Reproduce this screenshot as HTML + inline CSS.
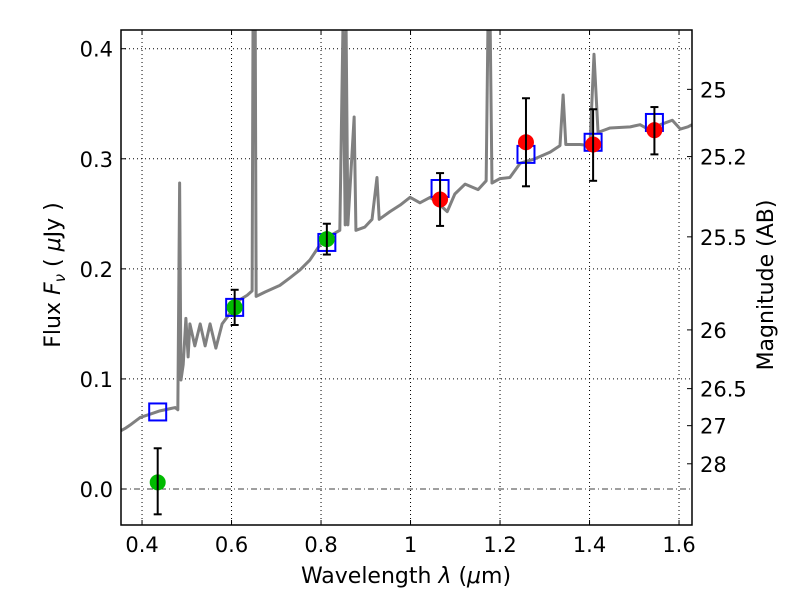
<!DOCTYPE html>
<html><head><meta charset="utf-8"><style>
body{margin:0;background:#fff}
svg text{font-family:"DejaVu Sans","Liberation Sans",sans-serif;fill:#000}
</style></head><body>
<svg id="c" width="800" height="600" xmlns="http://www.w3.org/2000/svg"></svg>
<script>
const specX=[0.353,0.362,0.373,0.396,0.418,0.440,0.463,0.474,0.480,0.484,0.487,0.492,0.498,0.503,0.507,0.518,0.530,0.541,0.552,0.565,0.579,0.603,0.619,0.635,0.646,0.648,0.653,0.655,0.675,0.708,0.731,0.753,0.775,0.798,0.820,0.842,0.849,0.854,0.856,0.860,0.874,0.878,0.898,0.914,0.925,0.930,0.954,0.977,0.999,1.021,1.044,1.066,1.082,1.099,1.122,1.151,1.169,1.173,1.178,1.182,1.200,1.222,1.245,1.278,1.312,1.334,1.341,1.347,1.379,1.401,1.410,1.419,1.446,1.491,1.513,1.535,1.558,1.585,1.603,1.620,1.629];
const specY=[0.053,0.055,0.058,0.065,0.068,0.071,0.073,0.074,0.072,0.278,0.099,0.113,0.155,0.12,0.15,0.13,0.15,0.13,0.15,0.128,0.15,0.163,0.172,0.176,0.18,0.42,0.42,0.175,0.179,0.185,0.192,0.199,0.208,0.222,0.230,0.235,0.42,0.24,0.42,0.24,0.338,0.235,0.238,0.245,0.283,0.245,0.252,0.258,0.265,0.26,0.265,0.258,0.252,0.268,0.277,0.272,0.28,0.42,0.42,0.278,0.282,0.283,0.296,0.3,0.306,0.312,0.358,0.313,0.313,0.312,0.395,0.324,0.328,0.329,0.331,0.326,0.331,0.335,0.327,0.329,0.331];
const bandX=[0.435,0.607,0.813,1.066,1.258,1.408,1.545];
const obsFlux=[0.006,0.165,0.227,0.263,0.315,0.313,0.326];
const errHi=[0.037,0.181,0.241,0.287,0.355,0.345,0.347];
const errLo=[-0.023,0.149,0.213,0.239,0.275,0.280,0.304];
const modelFlux=[0.070,0.165,0.224,0.273,0.304,0.315,0.333];
const obsColor=['#00bb00','#00bb00','#00bb00','#ff0000','#ff0000','#ff0000','#ff0000'];
const xTicks=[0.4,0.6,0.8,1.0,1.2,1.4,1.6];
const xTickLabels=['0.4','0.6','0.8','1','1.2','1.4','1.6'];
const yTicks=[0.0,0.1,0.2,0.3,0.4];
const yTickLabels=['0.0','0.1','0.2','0.3','0.4'];
const magTicks=[25,25.2,25.5,26,26.5,27,28];
const magLabels=['25','25.2','25.5','26','26.5','27','28'];

const L=121,R=692,T=30,B=525,X0=0.353,X1=1.629,Y0=-0.0327,Y1=0.417;
const sx=v=>L+(v-X0)/(X1-X0)*(R-L);
const sy=v=>B-(v-Y0)/(Y1-Y0)*(B-T);
const svg=document.getElementById('c');const NS='http://www.w3.org/2000/svg';
function mk(tag,attrs,name,parent){const e=document.createElementNS(NS,tag);for(const k in attrs)e.setAttribute(k,attrs[k]);


(parent||svg).appendChild(e);return e;}
const defs=mk('defs',{},'defs');const cp=mk('clipPath',{id:'cp'},'clip',defs);mk('rect',{x:L,y:T,width:R-L,height:B-T},'clip-rect',cp);
xTicks.forEach((t,i)=>{const x=sx(t);
mk('line',{x1:x,x2:x,y1:T,y2:B,stroke:'#000','stroke-width':1,'stroke-dasharray':'1,3'},'x-grid');
mk('line',{x1:x,x2:x,y1:B,y2:B-5,stroke:'#000'},'x-tick');mk('line',{x1:x,x2:x,y1:T,y2:T+5,stroke:'#000'},'x-tick-top');
const tx=mk('text',{x:x,y:B+27,'font-size':21,'text-anchor':'middle'},'x-tick-label');tx.textContent=xTickLabels[i];});
yTicks.forEach((t,i)=>{const y=sy(t);
if(t!==0)mk('line',{x1:L,x2:R,y1:y,y2:y,stroke:'#000','stroke-dasharray':'1,3'},'y-grid');
mk('line',{x1:L,x2:L+5,y1:y,y2:y,stroke:'#000'},'y-tick');
const tx=mk('text',{x:L-8,y:y+8,'font-size':21,'text-anchor':'end'},'y-tick-label');tx.textContent=yTickLabels[i];});
mk('line',{x1:L,x2:R,y1:sy(0),y2:sy(0),stroke:'#000','stroke-width':0.8,'stroke-dasharray':'6,3,1,3'},'zero-line');
magTicks.forEach((m,i)=>{const y=sy(Math.pow(10,(23.9-m)/2.5));
mk('line',{x1:R,x2:R-5,y1:y,y2:y,stroke:'#000'},'mag-tick');
const tx=mk('text',{x:R+8,y:y+8,'font-size':21},'mag-tick-label');tx.textContent=magLabels[i];});
const g=mk('g',{'clip-path':'url(#cp)'},'plot-content');
mk('polyline',{points:specX.map((x,i)=>sx(x)+','+sy(specY[i])).join(' '),fill:'none',stroke:'#808080','stroke-width':3,'stroke-linejoin':'round'},'spectrum-line',g);
bandX.forEach((b,i)=>{const x=sx(b);
mk('rect',{x:x-8.5,y:sy(modelFlux[i])-8.5,width:17,height:17,fill:'none',stroke:'#0000ff','stroke-width':2},'model-flux-square',g);
mk('circle',{cx:x,cy:sy(obsFlux[i]),r:8,fill:obsColor[i]},'observed-flux-point',g);
mk('line',{x1:x,x2:x,y1:sy(errHi[i]),y2:sy(errLo[i]),stroke:'#000','stroke-width':2},'error-bar',g);
mk('line',{x1:x-4,x2:x+4,y1:sy(errHi[i]),y2:sy(errHi[i]),stroke:'#000','stroke-width':2},'error-cap',g);
mk('line',{x1:x-4,x2:x+4,y1:sy(errLo[i]),y2:sy(errLo[i]),stroke:'#000','stroke-width':2},'error-cap',g);});
mk('rect',{x:L,y:T,width:R-L,height:B-T,fill:'none',stroke:'#000','stroke-width':1.5},'plot-frame');
</script>
<svg width="800" height="600" style="position:absolute;left:0;top:0">
<text x="406" y="583" font-size="22" text-anchor="middle">Wavelength  <tspan font-style="italic">λ</tspan> (<tspan font-style="italic">μ</tspan>m)</text>
<text transform="translate(60,275) rotate(-90)" font-size="22" text-anchor="middle">Flux  <tspan font-style="italic">F</tspan><tspan font-style="italic" font-size="15" dy="5">ν</tspan><tspan dy="-5">  (  </tspan><tspan font-style="italic">μ</tspan>Jy )</text>
<text transform="translate(773,285) rotate(-90)" font-size="22" text-anchor="middle">Magnitude (AB)</text>
</svg>
</body></html>
